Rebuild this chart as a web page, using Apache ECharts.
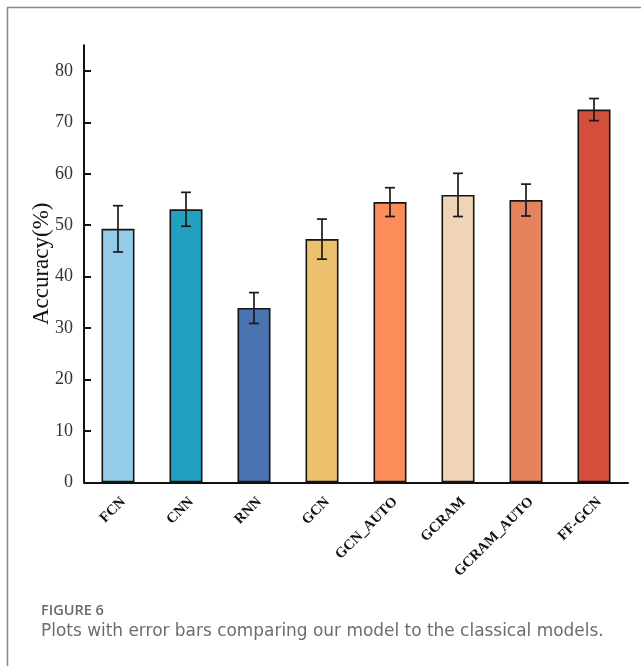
<!DOCTYPE html>
<html>
<head>
<meta charset="utf-8">
<script src="https://cdn.jsdelivr.net/npm/echarts@6/dist/echarts.min.js"></script>
<style>
html,body{margin:0;padding:0;background:#fff;}
#chart{width:641px;height:666px;}
</style>
</head>
<body>
<div id="chart"></div>
<script>
const categories = ['FCN', 'CNN', 'RNN', 'GCN', 'GCN_AUTO', 'GCRAM', 'GCRAM_AUTO', 'FF-GCN'];
const means = [49.3, 53.1, 33.9, 47.3, 54.5, 55.9, 54.9, 72.5];
const errors = [4.5, 3.3, 3.0, 3.9, 2.8, 4.2, 3.1, 2.15];
const barColors = ['#93CBE8', '#22A0BF', '#4A73B0', '#EDC06E', '#FC8C5A', '#EFD5B6', '#E4845E', '#D44E3C'];
const yTicks = [0, 10, 20, 30, 40, 50, 60, 70, 80];
const yName = 'Accuracy(%)';
const figLabel = 'FIGURE 6';
const caption = 'Plots with error bars comparing our model to the classical models.';

const chart = echarts.init(document.getElementById('chart'), null, {renderer: 'canvas'});

const errData = categories.map((c, i) => [i, means[i] - errors[i], means[i] + errors[i]]);

const option = {
  backgroundColor: '#ffffff',
  animation: false,
  grid: {left: 84, right: 13, top: 45.3, bottom: 183.7, outerBoundsMode: 'none', containLabel: false},
  xAxis: {
    type: 'category',
    data: categories,
    axisLine: {lineStyle: {color: '#111', width: 2}},
    axisTick: {inside: true, alignWithLabel: true, length: 7, lineStyle: {color: '#111', width: 2}},
    axisLabel: {
      interval: 0, rotate: 45, margin: 12, verticalAlign: 'top',
      fontFamily: 'Liberation Serif', fontWeight: 'bold', fontSize: 14.5, color: '#111'
    },
    splitLine: {show: false}
  },
  yAxis: {
    type: 'value',
    min: 0, max: 85, interval: 10,
    name: yName,
    nameLocation: 'middle',
    nameGap: 31,
    nameMoveOverlap: false,
    nameRotate: 90,
    nameTextStyle: {fontFamily: 'Liberation Serif', fontSize: 23, color: '#111'},
    axisLine: {show: true, lineStyle: {color: '#111', width: 2}},
    axisTick: {show: true, inside: true, length: 7, customValues: yTicks, lineStyle: {color: '#111', width: 2}},
    axisLabel: {customValues: yTicks, margin: 11, fontFamily: 'Liberation Serif', fontSize: 18, color: '#333'},
    splitLine: {show: false}
  },
  series: [
    {
      type: 'bar',
      barWidth: 33,
      data: means.map((v, i) => ({
        value: v,
        itemStyle: {color: barColors[i], borderColor: '#151515', borderWidth: 1.6}
      })),
      z: 2
    },
    {
      type: 'custom',
      z: 5,
      data: errData,
      encode: {x: 0, y: [1, 2]},
      renderItem: function (params, api) {
        const lo = api.coord([api.value(0), api.value(1)]);
        const hi = api.coord([api.value(0), api.value(2)]);
        const cap = 5;
        const st = {stroke: '#1a1a1a', lineWidth: 1.7};
        return {
          type: 'group',
          children: [
            {type: 'line', shape: {x1: lo[0], y1: lo[1], x2: hi[0], y2: hi[1]}, style: st},
            {type: 'line', shape: {x1: hi[0] - cap, y1: hi[1], x2: hi[0] + cap, y2: hi[1]}, style: st},
            {type: 'line', shape: {x1: lo[0] - cap, y1: lo[1], x2: lo[0] + cap, y2: lo[1]}, style: st}
          ]
        };
      }
    }
  ],
  graphic: [
    {type: 'rect', shape: {x: 7.5, y: 7.5, width: 800, height: 800}, style: {fill: null, stroke: '#888', lineWidth: 1.5}, silent: true},
    {type: 'text', left: 41, top: 603, style: {text: figLabel, font: '600 14.5px "Open Sans"', fill: '#6a6a6a'}},
    {type: 'text', left: 41, top: 623, style: {text: caption, font: '16.95px "DejaVu Sans"', fill: '#6d6d6d'}}
  ]
};
chart.setOption(option);
</script>
</body>
</html>
